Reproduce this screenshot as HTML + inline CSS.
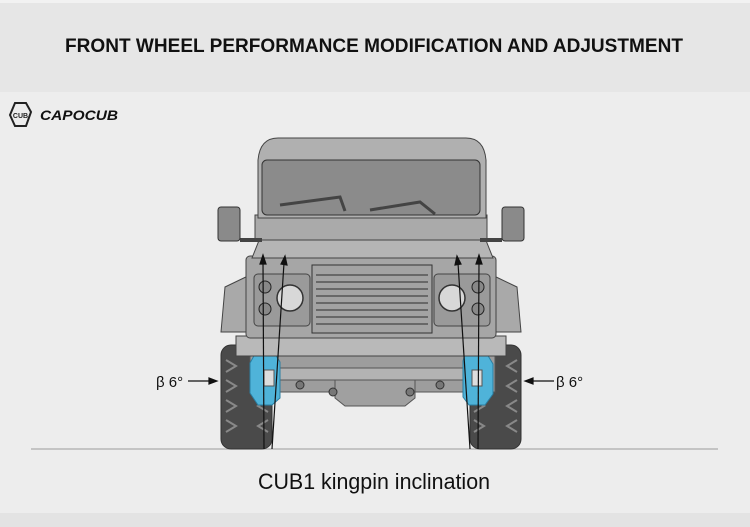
<!DOCTYPE html>
<html><head><meta charset="utf-8"><style>
html,body{margin:0;padding:0;width:750px;height:527px;overflow:hidden;background:#ececec}
svg{display:block}
</style></head><body>
<svg width="750" height="527" viewBox="0 0 750 527" xmlns="http://www.w3.org/2000/svg">
<rect x="0" y="0" width="750" height="92" fill="#e6e6e6"/>
<rect x="0" y="0" width="750" height="3" fill="#f2f2f2"/>
<rect x="0" y="92" width="750" height="421" fill="#ededed"/>
<rect x="0" y="513" width="750" height="14" fill="#e3e3e3"/>
<text x="65" y="52" textLength="618" lengthAdjust="spacingAndGlyphs" font-family="Liberation Sans, sans-serif" font-weight="bold" font-size="19" fill="#111">FRONT WHEEL PERFORMANCE MODIFICATION AND ADJUSTMENT</text>
<!-- logo -->
<polygon points="15,103 26,103 31,112 26,126 15,126 10,115" fill="none" stroke="#222" stroke-width="2"/>
<text x="20.5" y="118" text-anchor="middle" font-family="Liberation Sans, sans-serif" font-weight="bold" font-size="7" fill="#222">CUB</text>
<text x="40" y="120" textLength="78" lengthAdjust="spacingAndGlyphs" font-family="Liberation Sans, sans-serif" font-weight="bold" font-style="italic" font-size="14" fill="#111">CAPOCUB</text>
<!-- ground -->
<line x1="31" y1="449" x2="718" y2="449" stroke="#9a9a9a" stroke-width="1"/>
<!-- tires -->
<g stroke="#333" stroke-width="1">
<rect x="221" y="345" width="51" height="104" rx="10" fill="#4a4a4a"/>
<rect x="470" y="345" width="51" height="104" rx="10" fill="#4a4a4a"/>
</g>
<g stroke="#888" stroke-width="2" fill="none">
<path d="M226 360 l10 6 l-10 6 M226 380 l10 6 l-10 6 M226 400 l10 6 l-10 6 M226 420 l10 6 l-10 6 M268 360 l-10 6 l10 6 M268 380 l-10 6 l10 6 M268 400 l-10 6 l10 6 M268 420 l-10 6 l10 6"/>
<path d="M474 360 l10 6 l-10 6 M474 380 l10 6 l-10 6 M474 400 l10 6 l-10 6 M474 420 l10 6 l-10 6 M517 360 l-10 6 l10 6 M517 380 l-10 6 l10 6 M517 400 l-10 6 l10 6 M517 420 l-10 6 l10 6"/>
</g>
<!-- underbody -->
<rect x="250" y="352" width="245" height="40" fill="#9d9d9d" stroke="#555"/>
<rect x="260" y="368" width="225" height="12" rx="5" fill="#b3b3b3" stroke="#555"/>
<path d="M335 380 h80 v18 l-10 8 h-60 l-10 -8z" fill="#a0a0a0" stroke="#555"/>
<g fill="#777" stroke="#333"><circle cx="300" cy="385" r="4"/><circle cx="333" cy="392" r="4"/><circle cx="410" cy="392" r="4"/><circle cx="440" cy="385" r="4"/></g>
<!-- blue knuckles -->
<path d="M255 354 h20 l5 8 v36 l-8 7 h-14 l-8 -12 v-30z" fill="#4fb3d9" stroke="#2a7fa3"/>
<path d="M465 354 h22 l6 10 v30 l-8 11 h-16 l-6 -8 v-36z" fill="#4fb3d9" stroke="#2a7fa3"/>
<rect x="264" y="370" width="10" height="16" fill="#ddd" stroke="#555"/>
<rect x="472" y="370" width="10" height="16" fill="#ddd" stroke="#555"/>
<!-- bumper -->
<rect x="236" y="336" width="270" height="20" fill="#b9b9b9" stroke="#444"/>
<!-- fenders -->
<path d="M250 275 l-25 12 l-4 45 h29z" fill="#a9a9a9" stroke="#444"/>
<path d="M492 275 l25 12 l4 45 h-29z" fill="#a9a9a9" stroke="#444"/>
<!-- front face -->
<rect x="246" y="256" width="250" height="82" rx="4" fill="#a6a6a6" stroke="#444"/>
<rect x="254" y="274" width="56" height="52" rx="4" fill="#9a9a9a" stroke="#444"/>
<rect x="434" y="274" width="56" height="52" rx="4" fill="#9a9a9a" stroke="#444"/>
<g fill="#d8d8d8" stroke="#333" stroke-width="1.5">
<circle cx="290" cy="298" r="13"/><circle cx="452" cy="298" r="13"/>
</g>
<g fill="#888" stroke="#222"><circle cx="265" cy="287" r="6"/><circle cx="265" cy="309" r="6"/><circle cx="478" cy="287" r="6"/><circle cx="478" cy="309" r="6"/></g>
<rect x="312" y="265" width="120" height="68" fill="#a3a3a3" stroke="#333"/>
<g stroke="#555" stroke-width="1.5">
<line x1="316" y1="275" x2="428" y2="275"/><line x1="316" y1="282" x2="428" y2="282"/><line x1="316" y1="289" x2="428" y2="289"/><line x1="316" y1="296" x2="428" y2="296"/><line x1="316" y1="303" x2="428" y2="303"/><line x1="316" y1="310" x2="428" y2="310"/><line x1="316" y1="317" x2="428" y2="317"/><line x1="316" y1="324" x2="428" y2="324"/>
</g>
<!-- hood -->
<path d="M252 258 l8 -20 h50 l10 -8 h105 l10 8 h50 l8 20 z" fill="#b5b5b5" stroke="#444"/>
<!-- cowl / body -->
<rect x="255" y="215" width="232" height="25" fill="#aaaaaa" stroke="#444"/>
<!-- mirrors -->
<path d="M240 240 h22" stroke="#444" stroke-width="4"/><path d="M502 240 h-22" stroke="#444" stroke-width="4"/>
<rect x="218" y="207" width="22" height="34" rx="3" fill="#8a8a8a" stroke="#333"/>
<rect x="502" y="207" width="22" height="34" rx="3" fill="#8a8a8a" stroke="#333"/>
<!-- roof & windshield -->
<path d="M258 218 v-58 q2 -22 20 -22 h188 q18 0 20 22 v58z" fill="#b0b0b0" stroke="#444"/>
<rect x="262" y="160" width="218" height="55" rx="5" fill="#8b8b8b" stroke="#333"/>
<path d="M280 205 l60 -8 l5 14 M370 210 l50 -8 l15 12" stroke="#444" stroke-width="3" fill="none"/>
<!-- kingpin lines -->
<g stroke="#111" stroke-width="1.2" fill="#111">
<line x1="264" y1="449" x2="263" y2="262"/><polygon points="263,255 260,264 266,264"/>
<line x1="272" y1="449" x2="284" y2="263"/><polygon points="285,256 281,264 287,265"/>
<line x1="478" y1="449" x2="479" y2="262"/><polygon points="479,255 476,264 482,264"/>
<line x1="470" y1="449" x2="458" y2="263"/><polygon points="457,256 455,265 461,264"/>
<line x1="188" y1="381" x2="210" y2="381"/><polygon points="217,381 209,378 209,384"/>
<line x1="532" y1="381" x2="554" y2="381"/><polygon points="525,381 533,378 533,384"/>
</g>
<text x="156" y="387" font-family="Liberation Sans, DejaVu Sans, sans-serif" font-size="15" fill="#111">β 6°</text>
<text x="556" y="387" font-family="Liberation Sans, DejaVu Sans, sans-serif" font-size="15" fill="#111">β 6°</text>
<text x="258" y="489" textLength="232" lengthAdjust="spacingAndGlyphs" font-family="Liberation Sans, sans-serif" font-size="22" fill="#111">CUB1 kingpin inclination</text>
</svg>
</body></html>
